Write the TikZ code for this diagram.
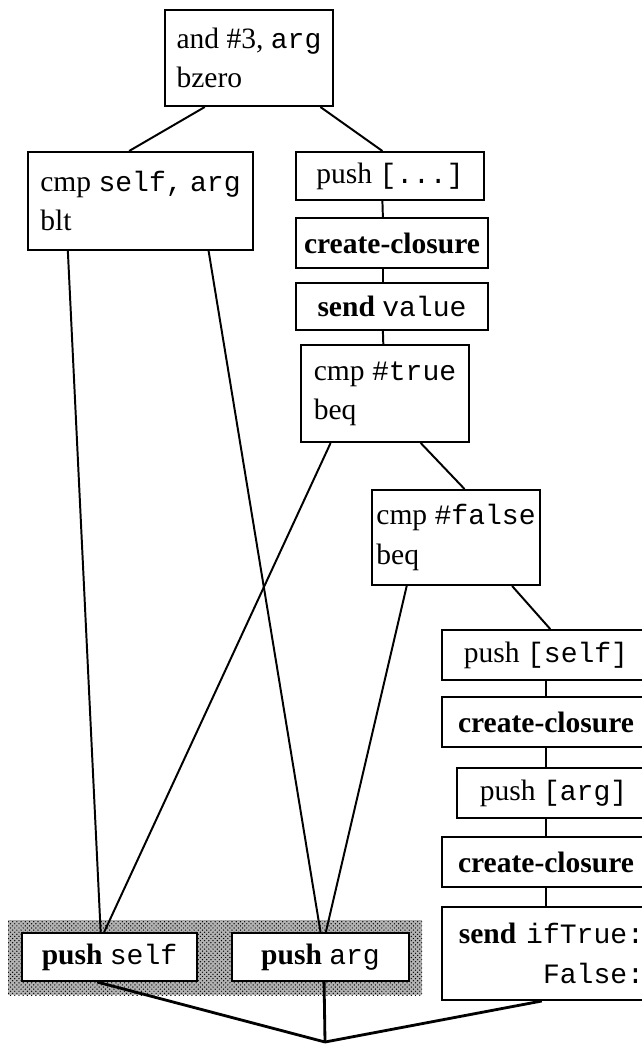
\documentclass[tikz,border=0pt]{standalone}
\usepackage{fontspec}
\setmainfont{Liberation Serif}
\setmonofont[Scale=0.95]{Liberation Mono}
\usetikzlibrary{calc}
\usetikzlibrary{patterns}
\tikzstyle{CodeBox}=[rectangle, draw=black, line width=1.4pt, fill=white, inner sep=0pt, minimum height=1.2cm, font=\fontsize{21}{28}\selectfont]
\tikzstyle{TwoLineBox}=[CodeBox, align=left]
\tikzstyle{FlowEdge}=[line width=1.4pt]
\tikzstyle{JoinEdge}=[FlowEdge, line width=2pt]
\tikzstyle{ShadeArea}=[fill=black!30, postaction={pattern=crosshatch dots, pattern color=black}]

\begin{document}
\begin{tikzpicture}[x=0.025cm, y=-0.025cm]
\useasboundingbox (0,0) rectangle (642,1044);
\fill[ShadeArea] (8,920) rectangle (422,995);

\node[TwoLineBox, minimum width=4.2cm, minimum height=2.4cm](AndZ) at (249,58) {and \#3, \texttt{arg}\\bzero};
\node[TwoLineBox, minimum width=5.625cm, minimum height=2.45cm](CmpSelf) at (140.5,201) {cmp \texttt{self,} \texttt{arg}\\blt};
\node[CodeBox, minimum width=4.7cm](PushBlk) at (390,176) {push \texttt{[...]}};
\node[CodeBox, minimum width=4.8cm, minimum height=1.25cm](Close1) at (392,243) {\textbf{create-closure}};
\node[CodeBox, minimum width=4.8cm, minimum height=1.175cm](SendVal) at (392,306.5) {\textbf{send} \texttt{value}};
\node[TwoLineBox, minimum width=4.2cm, minimum height=2.425cm](CmpTrue) at (385,393.5) {cmp \texttt{\#true}\\beq};
\node[TwoLineBox, minimum width=4.2cm, minimum height=2.375cm](CmpFalse) at (456,537.5) {cmp \texttt{\#false}\\beq};
\node[CodeBox, minimum width=5.2cm, minimum height=1.25cm](PushSelfBlk) at (546,655) {push \texttt{[self]}};
\node[CodeBox, minimum width=5.2cm, minimum height=1.25cm](Close2) at (546,722) {\textbf{create-closure}};
\node[CodeBox, minimum width=4.825cm, minimum height=1.25cm](PushArgBlk) at (553.5,793) {push \texttt{[arg]}};
\node[CodeBox, minimum width=5.2cm, minimum height=1.25cm](Close3) at (546,862) {\textbf{create-closure}};
\node[CodeBox, align=right, text width=4.9cm, inner xsep=0.15cm, minimum height=2.325cm](SendIf) at (546,953.5) {\textbf{send} \texttt{ifTrue:}\\\texttt{False:}};
\node[CodeBox, minimum width=4.375cm](PushSelf) at (109.5,957) {\textbf{push} \texttt{self}};
\node[CodeBox, minimum width=4.425cm](PushArg) at (320.5,957) {\textbf{push} \texttt{arg}};
\coordinate (Join) at (325,1042);

\draw[FlowEdge] ($(AndZ.south west)!0.24!(AndZ.south east)$) -- ($(CmpSelf.north west)!0.45!(CmpSelf.north east)$);
\draw[FlowEdge] ($(AndZ.south west)!0.92!(AndZ.south east)$) -- ($(PushBlk.north west)!0.46!(PushBlk.north east)$);
\draw[FlowEdge] ($(PushBlk.south west)!0.46!(PushBlk.south east)$) -- ($(Close1.north west)!0.453!(Close1.north east)$);
\draw[FlowEdge] ($(Close1.south west)!0.453!(Close1.south east)$) -- ($(SendVal.north west)!0.453!(SendVal.north east)$);
\draw[FlowEdge] ($(SendVal.south west)!0.453!(SendVal.south east)$) -- ($(CmpTrue.north west)!0.49!(CmpTrue.north east)$);
\draw[FlowEdge] ($(CmpTrue.south west)!0.71!(CmpTrue.south east)$) -- ($(CmpFalse.north west)!0.55!(CmpFalse.north east)$);
\draw[FlowEdge] ($(CmpFalse.south west)!0.83!(CmpFalse.south east)$) -- ($(PushSelfBlk.north west)!0.52!(PushSelfBlk.north east)$);
\draw[FlowEdge] (PushSelfBlk.south) -- (Close2.north);
\draw[FlowEdge] (Close2.south) -- (Close2.south |- PushArgBlk.north);
\draw[FlowEdge] (Close3.north |- PushArgBlk.south) -- (Close3.north);
\draw[FlowEdge] (Close3.south) -- (SendIf.north);

\draw[FlowEdge] ($(CmpSelf.south west)!0.18!(CmpSelf.south east)$) -- ($(PushSelf.north west)!0.45!(PushSelf.north east)$);
\draw[FlowEdge] ($(CmpSelf.south west)!0.8!(CmpSelf.south east)$) -- ($(PushArg.north west)!0.5!(PushArg.north east)$);
\draw[FlowEdge] ($(CmpTrue.south west)!0.18!(CmpTrue.south east)$) -- ($(PushSelf.north west)!0.47!(PushSelf.north east)$);
\draw[FlowEdge] ($(CmpFalse.south west)!0.21!(CmpFalse.south east)$) -- ($(PushArg.north west)!0.53!(PushArg.north east)$);

\draw[JoinEdge] ($(PushSelf.south west)!0.43!(PushSelf.south east)$) -- (Join);
\draw[JoinEdge] ($(PushArg.south west)!0.52!(PushArg.south east)$) -- (Join);
\draw[JoinEdge] ($(SendIf.south west)!0.48!(SendIf.south east)$) -- (Join);
\end{tikzpicture}
\end{document}
